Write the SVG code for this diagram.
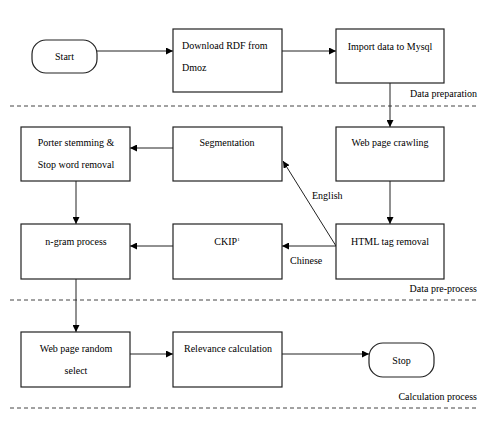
<svg xmlns="http://www.w3.org/2000/svg" width="500" height="429" viewBox="0 0 500 429">
<style>
.box{fill:#fff;stroke:#222;stroke-width:1.2}
.t{font-family:'Liberation Serif','Times New Roman',serif;font-size:10px;fill:#000}
.c{text-anchor:middle}
.e{text-anchor:end}
.ln{stroke:#222;stroke-width:1;fill:none}
.dash{stroke:#444;stroke-width:1;stroke-dasharray:4,3}
</style>
<defs>
<marker id="ah" viewBox="0 0 10 10" refX="10" refY="5" markerWidth="7" markerHeight="7" markerUnits="userSpaceOnUse" orient="auto">
<path d="M0,0 L10,5 L0,10 z" fill="#000"/>
</marker>
</defs>
<rect width="500" height="429" fill="#fff"/>
<g id="separators" font-family="Liberation Serif, serif">
<line class="dash" x1="10" y1="106" x2="477" y2="106"/>
<line class="dash" x1="10" y1="300" x2="477" y2="300"/>
<line class="dash" x1="10" y1="408" x2="477" y2="408"/>
<text class="t e" x="477" y="97">Data preparation</text>
<text class="t e" x="477" y="292">Data pre-process</text>
<text class="t e" x="477" y="400">Calculation process</text>
</g>
<g id="connectors">
<line class="ln" x1="97" y1="51" x2="173" y2="51" marker-end="url(#ah)"/>
<line class="ln" x1="282" y1="51" x2="336" y2="51" marker-end="url(#ah)"/>
<line class="ln" x1="390" y1="83" x2="390" y2="127" marker-end="url(#ah)"/>
<line class="ln" x1="390" y1="181" x2="390" y2="224" marker-end="url(#ah)"/>
<line class="ln" x1="173" y1="148" x2="130" y2="148" marker-end="url(#ah)"/>
<line class="ln" x1="76" y1="181" x2="76" y2="224" marker-end="url(#ah)"/>
<line class="ln" x1="336" y1="246" x2="282" y2="246" marker-end="url(#ah)"/>
<line class="ln" x1="336" y1="246" x2="283" y2="161" marker-end="url(#ah)"/>
<line class="ln" x1="173" y1="246" x2="130" y2="246" marker-end="url(#ah)"/>
<line class="ln" x1="76" y1="279" x2="76" y2="332" marker-end="url(#ah)"/>
<line class="ln" x1="130" y1="354" x2="173" y2="354" marker-end="url(#ah)"/>
<line class="ln" x1="282" y1="354" x2="369" y2="354" marker-end="url(#ah)"/>
<text class="t" x="312" y="199">English</text>
<text class="t" x="290" y="264">Chinese</text>
</g>
<g id="start">
<rect class="box" x="32" y="40" width="65" height="33" rx="14" ry="14"/>
<text class="t c" x="64.5" y="60">Start</text>
</g>
<g id="download">
<rect class="box" x="173" y="29" width="109" height="63"/>
<text class="t" x="182" y="49">Download RDF from</text>
<text class="t" x="182" y="71">Dmoz</text>
</g>
<g id="import">
<rect class="box" x="336" y="29" width="108" height="54"/>
<text class="t c" x="390" y="50">Import data to Mysql</text>
</g>
<g id="crawl">
<rect class="box" x="336" y="127" width="108" height="54"/>
<text class="t c" x="390" y="146">Web page crawling</text>
</g>
<g id="segmentation">
<rect class="box" x="173" y="127" width="109" height="54"/>
<text class="t c" x="227" y="146">Segmentation</text>
</g>
<g id="porter">
<rect class="box" x="21" y="127" width="109" height="54"/>
<text class="t c" x="76" y="146">Porter stemming &amp;</text>
<text class="t c" x="76" y="168">Stop word removal</text>
</g>
<g id="ngram">
<rect class="box" x="21" y="224" width="109" height="55"/>
<text class="t c" x="76" y="245">n-gram process</text>
</g>
<g id="ckip">
<rect class="box" x="173" y="224" width="109" height="55"/>
<text class="t c" x="227" y="245">CKIP<tspan font-size="5" dy="-4">1</tspan></text>
</g>
<g id="html">
<rect class="box" x="336" y="224" width="108" height="55"/>
<text class="t c" x="390" y="245">HTML tag removal</text>
</g>
<g id="random">
<rect class="box" x="21" y="332" width="109" height="55"/>
<text class="t c" x="76" y="352">Web page random</text>
<text class="t c" x="76" y="374">select</text>
</g>
<g id="relevance">
<rect class="box" x="173" y="332" width="109" height="55"/>
<text class="t" x="184" y="352">Relevance calculation</text>
</g>
<g id="stop">
<rect class="box" x="369" y="343" width="65" height="34" rx="14" ry="14"/>
<text class="t c" x="401.5" y="364">Stop</text>
</g>
</svg>
